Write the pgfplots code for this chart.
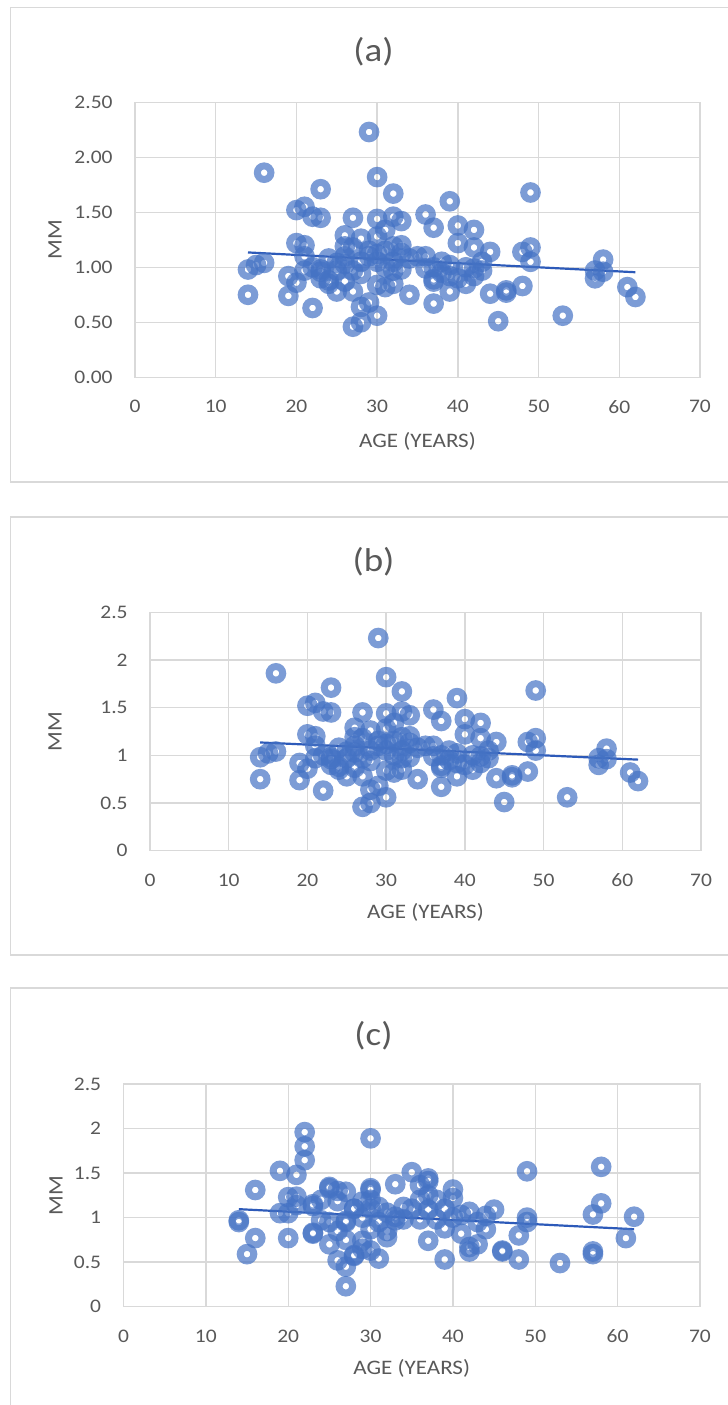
\documentclass[border=0pt]{standalone}
\usepackage{pgfplots}
\pgfplotsset{compat=1.18}
\usepackage{pgfplotstable}
\usepackage{fontspec}
\setmainfont{Carlito}[FakeStretch=1.12]
\definecolor{gridgray}{RGB}{217,217,217}
\definecolor{txtgray}{RGB}{89,89,89}
\definecolor{mblue}{RGB}{68,114,196}
\definecolor{tblue}{RGB}{45,90,185}

\pgfplotstableread{
x y
29 2.23
16 1.86
30 1.82
23 1.71
32 1.67
39 1.60
20 1.52
21 1.55
22 1.46
23 1.45
27 1.45
30 1.44
32 1.46
33 1.42
36 1.48
37 1.36
40 1.38
42 1.34
26 1.29
28 1.26
30 1.28
31 1.34
32 1.19
33 1.20
20 1.22
21 1.20
26 1.19
27 1.18
21 1.10
16 1.04
15 1.02
14 0.98
14 0.75
19 0.92
19 0.74
20 0.86
22 1.00
22 0.63
23 0.98
23 0.90
24 0.85
25 1.04
25 0.78
26 0.87
27 0.78
28 0.94
28 0.64
29 0.68
27 0.46
28 0.50
30 0.56
29 1.10
30 0.84
32 0.85
32 0.97
34 0.75
36 1.10
37 1.00
37 0.89
37 0.67
39 0.92
39 0.78
40 1.22
41 1.00
42 0.92
42 1.18
35 1.10
49 1.68
44 1.14
48 1.14
49 1.18
49 1.05
43 0.97
41 0.85
44 0.76
46 0.79
46 0.77
48 0.83
45 0.51
53 0.56
57 0.97
57 0.90
58 1.07
58 0.96
61 0.82
62 0.73
23 0.96
24 0.88
27 0.97
29 1.15
31 1.15
34 1.08
36 0.99
39 1.02
42 0.99
37 0.87
25 0.97
26 1.03
28 1.05
30 1.05
31 1.00
33 0.98
38 1.05
40 0.90
43 1.05
21 0.97
24 1.08
31 0.82
33 1.13
38 0.95
32 1.05
30 1.12
26 1.10
}\dataA

\pgfplotstableread{
x y
22 1.96
22 1.80
22 1.645
30 1.89
19 1.525
21 1.48
16 1.31
20 1.23
21 1.14
19 1.05
20 1.05
14 0.97
14 0.95
16 0.77
15 0.59
20 0.77
23 1.13
23 1.15
23 0.82
25 1.345
26 1.30
27 1.29
25 0.95
25 0.70
26 0.52
26 1.185
27 0.95
28 1.10
27 0.75
27 0.45
27 0.23
28 0.57
28 0.58
29 0.74
30 1.31
30 1.20
30 0.87
31 0.54
32 1.055
32 0.78
33 1.375
34 0.98
35 1.51
36 1.365
37 1.41
35 1.10
37 1.09
36 0.98
37 0.74
39 1.10
39 0.88
39 0.53
40 1.315
42 1.065
41 0.82
42 0.67
42 0.62
44 1.02
45 1.09
44 0.87
46 0.62
46 0.63
48 0.80
48 0.53
49 1.52
49 1.00
49 0.95
53 0.49
57 1.035
57 0.62
57 0.59
58 1.57
58 1.16
62 1.01
61 0.77
40 1.22
37 1.44
25 1.33
30 1.33
21 1.235
24 1.20
28 1.10
30 1.10
38 1.20
37 1.25
40 1.00
41 1.03
43 0.95
33 1.01
34 1.12
31 1.12
29 1.00
26 0.85
24 0.97
29 0.65
30 0.63
32 0.85
31 0.95
27 0.965
23 0.83
33 0.97
36 1.20
43 0.70
38 0.98
29 1.18
}\dataC

\pgfplotsset{
  myax/.style={
    scale only axis, anchor=south west,
    xmin=0, xmax=70, ymin=0, ymax=2.5,
    xtick={0,10,20,30,40,50,60,70},
    ytick={0,0.5,1,1.5,2,2.5},
    grid=major,
    major grid style={draw=gridgray, line width=0.7pt},
    axis line style={draw=gridgray, line width=0.7pt},
    major tick length=0pt,
    scaled ticks=false,
    tick label style={font=\fontsize{9.6}{11}\selectfont, text=txtgray},
    /pgf/number format/assume math mode=true,
    /pgf/number format/fixed,
    xticklabel style={anchor=center, inner sep=0pt, yshift=-14.7pt},
    yticklabel style={anchor=east, inner sep=0pt, xshift=-11pt},
    xlabel={AGE (YEARS)}, ylabel={MM},
  },
  ringmarks/.style={only marks, mark=o, mark size=3.4pt,
    mark options={draw=mblue, line width=3.5pt, draw opacity=0.7}},
  trend/.style={no marks, draw=tblue, line width=1.1pt},
}

\begin{document}
\begin{tikzpicture}
\useasboundingbox (0,0) rectangle (364pt,702.5pt);
% chart area borders
\draw[gridgray, line width=0.6pt] (370pt,698.75pt) -- (5.25pt,698.75pt) -- (5.25pt,461.5pt) -- (370pt,461.5pt);
\draw[gridgray, line width=0.6pt] (370pt,444pt) -- (5.25pt,444pt) -- (5.25pt,225pt) -- (370pt,225pt);
\draw[gridgray, line width=0.6pt] (370pt,208.5pt) -- (5.25pt,208.5pt) -- (5.25pt,-5pt);
% titles
\node[text=txtgray, font=\fontsize{16.5}{19}\selectfont] at (186.75pt,676.5pt) {(a)};
\node[text=txtgray, font=\fontsize{16.5}{19}\selectfont] at (186.75pt,421.5pt) {(b)};
\node[text=txtgray, font=\fontsize{16.5}{19}\selectfont] at (186.75pt,184.5pt) {(c)};

% (a)
\begin{axis}[myax, at={(67.5pt,513.85pt)}, width=282.5pt, height=137.5pt,
  yticklabel style={/pgf/number format/fixed zerofill, /pgf/number format/precision=2},
  every axis x label/.style={at={(axis description cs:0.5,-0.234)}, anchor=center, font=\fontsize{10.3}{12}\selectfont, text=txtgray},
  every axis y label/.style={at={(axis description cs:-0.1416,0.5)}, anchor=center, rotate=90, font=\fontsize{10.3}{12}\selectfont, text=txtgray}]
\addplot[ringmarks] table[x=x,y=y] {\dataA};
\addplot[trend] coordinates {(14,1.135) (62,0.955)};
\end{axis}

% (b)
\begin{axis}[myax, at={(75pt,277.15pt)}, width=275.5pt, height=119.2pt,
  every axis x label/.style={at={(axis description cs:0.5,-0.260)}, anchor=center, font=\fontsize{10.3}{12}\selectfont, text=txtgray},
  every axis y label/.style={at={(axis description cs:-0.1724,0.5)}, anchor=center, rotate=90, font=\fontsize{10.3}{12}\selectfont, text=txtgray}]
\addplot[ringmarks] table[x=x,y=y] {\dataA};
\addplot[trend] coordinates {(14,1.135) (62,0.955)};
\end{axis}

% (c)
\begin{axis}[myax, at={(61.75pt,49.15pt)}, width=288.25pt, height=111.35pt,
  every axis x label/.style={at={(axis description cs:0.5,-0.2757)}, anchor=center, font=\fontsize{10.3}{12}\selectfont, text=txtgray},
  every axis y label/.style={at={(axis description cs:-0.1171,0.5)}, anchor=center, rotate=90, font=\fontsize{10.3}{12}\selectfont, text=txtgray}]
\addplot[ringmarks] table[x=x,y=y] {\dataC};
\addplot[trend] coordinates {(14,1.095) (62,0.87)};
\end{axis}
\end{tikzpicture}
\end{document}
